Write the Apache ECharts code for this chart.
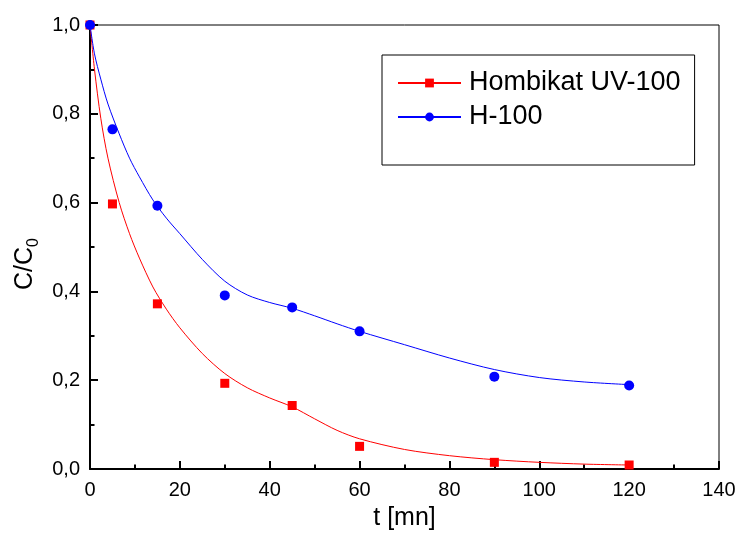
<!DOCTYPE html>
<html>
<head>
<meta charset="utf-8">
<script src="https://cdn.jsdelivr.net/npm/echarts@6/dist/echarts.min.js"></script>
<style>
  html, body { margin: 0; padding: 0; background: #fff; }
  #chart { width: 740px; height: 539px; }
</style>
</head>
<body>
<div id="chart"></div>
<script>
// Measured degradation: remaining fraction C/C0 against time (minutes)
var seriesNames = ['Hombikat UV-100', 'H-100'];
var sampleTimes = [0, 5, 15, 30, 45, 60, 90, 120];
var hombikatPoints = [1.0, 0.597, 0.372, 0.193, 0.143, 0.051, 0.015, 0.009];
var h100Points = [1.0, 0.765, 0.593, 0.391, 0.364, 0.310, 0.208, 0.188];

// Fitted curves, sampled along time
var curveTimes = [0, 1, 2.4, 4, 6.5, 8.8, 11, 14, 17, 20, 25, 30, 35, 40, 45, 50, 55, 60, 70, 80, 90, 100, 110, 120];
var hombikatCurve = [1.0, 0.90, 0.79, 0.70, 0.60, 0.53, 0.475, 0.41, 0.36, 0.318, 0.26, 0.215, 0.183, 0.160, 0.140, 0.113, 0.087, 0.068, 0.044, 0.030, 0.021, 0.015, 0.011, 0.009];
var h100Curve = [1.0, 0.935, 0.878, 0.822, 0.755, 0.70, 0.658, 0.606, 0.565, 0.53, 0.472, 0.423, 0.392, 0.375, 0.362, 0.345, 0.327, 0.31, 0.28, 0.25, 0.224, 0.206, 0.196, 0.19];

var xTicks = { min: 0, max: 140, step: 20 };
var yTicks = { min: 0, max: 1, step: 0.2 };

function pairs(xs, ys) {
  return xs.map(function (x, i) { return [x, ys[i]]; });
}

var RED = '#ff0000';
var BLUE = '#0000ff';
var FONT = 'Liberation Sans, Arial, sans-serif';

var chart = echarts.init(document.getElementById('chart'), null, { renderer: 'canvas' });

var axisCommon = {
  type: 'value',
  axisLine: { show: true, onZero: false, lineStyle: { color: '#000', width: 2 } },
  axisTick: { show: true, inside: true, length: 8, lineStyle: { color: '#000', width: 2 } },
  minorTick: { show: true, splitNumber: 2, length: 4.5, lineStyle: { color: '#000', width: 2 } },
  splitLine: { show: false },
  minorSplitLine: { show: false },
  axisLabel: { color: '#000', fontSize: 20, fontFamily: FONT }
};

chart.setOption({
  animation: false,
  backgroundColor: '#fff',
  grid: {
    left: 90, right: 21, top: 25, bottom: 70,
    show: true, borderColor: '#000', borderWidth: 1, backgroundColor: 'transparent'
  },
  legend: {
    data: seriesNames,
    orient: 'vertical',
    left: 382, top: 55,
    borderColor: '#000', borderWidth: 1,
    padding: [13, 14, 33, 15],
    itemWidth: 63, itemHeight: 11, itemGap: 4,
    textStyle: { color: '#000', fontSize: 27, fontFamily: FONT, lineHeight: 30, padding: [0, 0, 0, 3] }
  },
  xAxis: Object.assign({}, axisCommon, {
    min: xTicks.min, max: xTicks.max, interval: xTicks.step,
    name: 't [mn]', nameLocation: 'middle', nameGap: 37,
    nameTextStyle: { color: '#000', fontSize: 25, fontFamily: FONT },
    axisLabel: Object.assign({}, axisCommon.axisLabel, { margin: 11 })
  }),
  yAxis: Object.assign({}, axisCommon, {
    min: yTicks.min, max: yTicks.max, interval: yTicks.step,
    name: 'C/C{s|0}', nameLocation: 'middle', nameGap: 47,
    nameTextStyle: {
      color: '#000', fontSize: 25, fontFamily: FONT, padding: [0, 34, 0, 0],
      rich: { s: { fontSize: 16, fontFamily: FONT, color: '#000', padding: [16, 0, 0, 0] } }
    },
    axisLabel: Object.assign({}, axisCommon.axisLabel, {
      margin: 10,
      formatter: function (v) { return v.toFixed(1).replace('.', ','); }
    })
  }),
  series: [
    {
      name: seriesNames[0], type: 'line', data: pairs(curveTimes, hombikatCurve),
      smooth: 0.3, showSymbol: false, symbol: 'rect', symbolSize: 8,
      lineStyle: { color: RED, width: 1 }, itemStyle: { color: RED }, z: 2
    },
    {
      name: seriesNames[1], type: 'line', data: pairs(curveTimes, h100Curve),
      smooth: 0.3, showSymbol: false, symbol: 'circle', symbolSize: 9,
      lineStyle: { color: BLUE, width: 1 }, itemStyle: { color: BLUE }, z: 2
    },
    {
      name: seriesNames[0], type: 'scatter', data: pairs(sampleTimes, hombikatPoints),
      symbol: 'rect', symbolSize: 9, itemStyle: { color: RED, opacity: 1 }, z: 3
    },
    {
      name: seriesNames[1], type: 'scatter', data: pairs(sampleTimes, h100Points),
      symbol: 'circle', symbolSize: 10, itemStyle: { color: BLUE, opacity: 1 }, z: 4
    }
  ]
});
</script>
</body>
</html>
